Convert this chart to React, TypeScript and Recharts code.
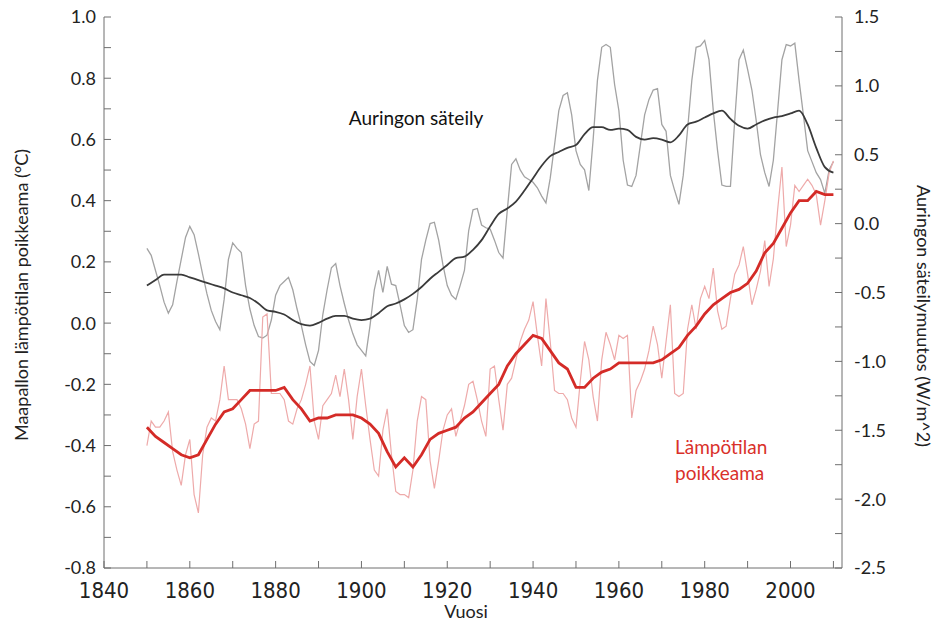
import { LineChart, Line, XAxis, YAxis } from 'recharts'

// vuosittaiset arvot alkavat 1850
const START = 1850

// Auringon säteilymuutos (W/m^2), vuosiarvot 1850–2010
const solarRaw = [
  -0.18, -0.23, -0.34, -0.45, -0.57, -0.65, -0.59, -0.42, -0.26, -0.10,
  -0.02, -0.08, -0.22, -0.37, -0.51, -0.63, -0.71, -0.77, -0.55, -0.26,
  -0.14, -0.18, -0.21, -0.45, -0.62, -0.74, -0.82, -0.83, -0.81, -0.70,
  -0.52, -0.45, -0.42, -0.39, -0.48, -0.62, -0.74, -0.88, -1.00, -1.03,
  -0.92, -0.66, -0.48, -0.32, -0.29, -0.45, -0.58, -0.70, -0.80, -0.88,
  -0.92, -0.96, -0.74, -0.48, -0.34, -0.50, -0.31, -0.44, -0.45, -0.59,
  -0.74, -0.79, -0.77, -0.55, -0.26, -0.12, 0.00, 0.01, -0.12, -0.30,
  -0.45, -0.52, -0.55, -0.45, -0.34, -0.05, 0.10, 0.11, -0.01, -0.03,
  -0.04, -0.12, -0.21, -0.25, 0.10, 0.43, 0.47, 0.39, 0.34, 0.32,
  0.30, 0.26, 0.20, 0.15, 0.33, 0.57, 0.82, 0.93, 0.95, 0.79,
  0.53, 0.43, 0.39, 0.24, 0.61, 1.04, 1.28, 1.30, 1.28, 1.01,
  0.82, 0.46, 0.28, 0.27, 0.35, 0.57, 0.79, 0.90, 0.97, 0.98,
  0.72, 0.67, 0.35, 0.24, 0.14, 0.35, 0.68, 1.04, 1.28, 1.29,
  1.33, 1.19, 0.82, 0.53, 0.28, 0.27, 0.27, 0.75, 1.19, 1.26,
  1.12, 0.97, 0.75, 0.50, 0.37, 0.27, 0.46, 0.82, 1.19, 1.30,
  1.29, 1.31, 1.04, 0.79, 0.53, 0.45, 0.37, 0.32, 0.22, 0.39,
  0.45,
]

// tasoitettu säteily, joka toinen vuosi 1850–2010
const solarSmooth = [
  -0.45, -0.41, -0.37, -0.37, -0.37, -0.39, -0.41, -0.43, -0.45, -0.47,
  -0.50, -0.52, -0.54, -0.58, -0.63, -0.64, -0.66, -0.70, -0.73, -0.74,
  -0.72, -0.69, -0.67, -0.67, -0.69, -0.70, -0.69, -0.65, -0.60, -0.58,
  -0.55, -0.51, -0.46, -0.40, -0.35, -0.30, -0.25, -0.24, -0.19, -0.12,
  -0.02, 0.07, 0.11, 0.16, 0.24, 0.33, 0.42, 0.49, 0.52, 0.55,
  0.57, 0.65, 0.70, 0.70, 0.68, 0.69, 0.68, 0.63, 0.61, 0.62,
  0.61, 0.59, 0.64, 0.72, 0.74, 0.77, 0.80, 0.82, 0.76, 0.71,
  0.69, 0.72, 0.75, 0.77, 0.78, 0.80, 0.82, 0.72, 0.55, 0.41,
  0.37,
]

// lämpötilan poikkeama (°C), vuosiarvot 1850–2010
const tempRaw = [
  -0.40, -0.32, -0.34, -0.34, -0.32, -0.29, -0.42, -0.48, -0.53, -0.43,
  -0.38, -0.56, -0.62, -0.43, -0.34, -0.31, -0.32, -0.25, -0.14, -0.25,
  -0.25, -0.25, -0.28, -0.33, -0.41, -0.33, -0.32, 0.02, 0.03, -0.23,
  -0.23, -0.23, -0.25, -0.32, -0.33, -0.28, -0.25, -0.20, -0.14, -0.32,
  -0.38, -0.27, -0.25, -0.23, -0.17, -0.24, -0.15, -0.25, -0.38, -0.24,
  -0.15, -0.27, -0.38, -0.48, -0.50, -0.35, -0.28, -0.43, -0.55, -0.56,
  -0.56, -0.57, -0.48, -0.32, -0.24, -0.25, -0.45, -0.54, -0.45, -0.35,
  -0.30, -0.28, -0.37, -0.32, -0.27, -0.20, -0.19, -0.25, -0.32, -0.37,
  -0.15, -0.14, -0.25, -0.35, -0.20, -0.18, -0.12, -0.06, -0.02, 0.01,
  0.07, -0.04, -0.14, 0.08, -0.06, -0.22, -0.23, -0.23, -0.25, -0.31,
  -0.34, -0.19, -0.06, -0.12, -0.24, -0.32, -0.12, -0.03, -0.07, -0.12,
  -0.04, -0.05, -0.04, -0.31, -0.22, -0.19, -0.15, -0.09, -0.01, -0.07,
  -0.18, -0.06, 0.06, -0.23, -0.24, -0.23, -0.02, 0.06, -0.02, 0.08,
  0.12, 0.08, 0.18, 0.04, -0.02, -0.01, 0.08, 0.16, 0.19, 0.25,
  0.16, 0.06, 0.11, 0.17, 0.27, 0.12, 0.21, 0.37, 0.51, 0.25,
  0.32, 0.45, 0.43, 0.45, 0.47, 0.45, 0.42, 0.32, 0.40, 0.49,
  0.53,
]

// tasoitettu poikkeama, joka toinen vuosi 1850–2010
const tempSmooth = [
  -0.34, -0.37, -0.39, -0.41, -0.43, -0.44, -0.43, -0.38, -0.33, -0.29,
  -0.28, -0.25, -0.22, -0.22, -0.22, -0.22, -0.21, -0.25, -0.28, -0.32,
  -0.31, -0.31, -0.30, -0.30, -0.30, -0.31, -0.33, -0.36, -0.42, -0.47,
  -0.44, -0.47, -0.43, -0.38, -0.36, -0.35, -0.34, -0.31, -0.29, -0.26,
  -0.23, -0.20, -0.14, -0.10, -0.07, -0.04, -0.05, -0.09, -0.13, -0.15,
  -0.21, -0.21, -0.18, -0.16, -0.15, -0.13, -0.13, -0.13, -0.13, -0.13,
  -0.12, -0.10, -0.08, -0.04, -0.01, 0.03, 0.06, 0.08, 0.10, 0.11,
  0.13, 0.17, 0.23, 0.26, 0.31, 0.36, 0.40, 0.40, 0.43, 0.42,
  0.42,
]

const xTicks = [1840, 1850, 1860, 1870, 1880, 1890, 1900, 1910, 1920, 1930, 1940, 1950, 1960, 1970, 1980, 1990, 2000, 2010]
const leftTicks = [-0.8, -0.7, -0.6, -0.5, -0.4, -0.3, -0.2, -0.1, 0, 0.1, 0.2, 0.3, 0.4, 0.5, 0.6, 0.7, 0.8, 0.9, 1.0]
const rightTicks = [-2.5, -2.25, -2.0, -1.75, -1.5, -1.25, -1.0, -0.75, -0.5, -0.25, 0, 0.25, 0.5, 0.75, 1.0, 1.25, 1.5]

const annual = (vals: number[]) => vals.map((v, i) => ({ year: START + i, v }))
const biennial = (vals: number[]) => vals.map((v, i) => ({ year: START + 2 * i, v }))

const AXIS = '#6f6f6f'
const TICK_FONT = 'Lato, "Noto Sans", sans-serif'
const YEAR_FONT = '"Liberation Sans Narrow", "DejaVu Sans Condensed", sans-serif'

export default function App() {
  return (
    <div
      style={{
        position: 'absolute',
        left: 0,
        top: 0,
        width: 938,
        height: 625,
        background: '#fff',
        fontFamily: TICK_FONT,
      }}
    >
      <LineChart width={938} height={625} margin={{ top: 17, right: 0, left: 0, bottom: 0 }}>
        <XAxis
          dataKey="year"
          type="number"
          domain={[1840, 2012]}
          ticks={xTicks}
          allowDataOverflow
          height={57}
          tickSize={-7}
          tickMargin={21}
          stroke={AXIS}
          tick={{ fontSize: 22, fill: '#222', fontFamily: YEAR_FONT }}
          tickFormatter={(v) => (v % 20 === 0 ? String(v) : '')}
        />
        <XAxis
          xAxisId="top"
          orientation="top"
          type="number"
          domain={[1840, 2012]}
          ticks={xTicks}
          allowDataOverflow
          height={0}
          tickSize={-7}
          stroke={AXIS}
          tickFormatter={() => ''}
        />
        <YAxis
          yAxisId="left"
          type="number"
          domain={[-0.8, 1.0]}
          ticks={leftTicks}
          allowDataOverflow
          width={104}
          tickSize={-7}
          tickMargin={15}
          stroke={AXIS}
          tick={{ fontSize: 18, fill: '#222', fontFamily: TICK_FONT }}
          tickFormatter={(v) => (Math.round(v * 10) % 2 === 0 ? v.toFixed(1) : '')}
        />
        <YAxis
          yAxisId="right"
          orientation="right"
          type="number"
          domain={[-2.5, 1.5]}
          ticks={rightTicks}
          allowDataOverflow
          width={96}
          tickSize={-7}
          tickMargin={19}
          stroke={AXIS}
          tick={{ fontSize: 18, fill: '#222', fontFamily: TICK_FONT }}
          tickFormatter={(v) => (Math.round(v * 4) % 2 === 0 ? v.toFixed(1) : '')}
        />
        <Line
          data={annual(solarRaw)}
          dataKey="v"
          yAxisId="right"
          type="linear"
          stroke="#a3a3a3"
          strokeWidth={1.3}
          dot={false}
          isAnimationActive={false}
        />
        <Line
          data={annual(tempRaw)}
          dataKey="v"
          yAxisId="left"
          type="linear"
          stroke="#eeaaaa"
          strokeWidth={1.2}
          dot={false}
          isAnimationActive={false}
        />
        <Line
          data={biennial(solarSmooth)}
          dataKey="v"
          yAxisId="right"
          type="monotone"
          stroke="#3a3a3a"
          strokeWidth={1.8}
          dot={false}
          isAnimationActive={false}
        />
        <Line
          data={biennial(tempSmooth)}
          dataKey="v"
          yAxisId="left"
          type="linear"
          stroke="#d42b27"
          strokeWidth={2.8}
          dot={false}
          isAnimationActive={false}
        />
      </LineChart>

      <div style={{ ...labelStyle(416, 117, '#111'), fontSize: 19 }}>Auringon säteily</div>
      <div
        style={{
          position: 'absolute',
          left: 675,
          top: 434,
          lineHeight: '26px',
          fontSize: 19,
          color: '#d9302a',
          whiteSpace: 'nowrap',
        }}
      >
        Lämpötilan
        <br />
        poikkeama
      </div>
      <div style={labelStyle(466, 611, '#222')}>Vuosi</div>
      <div style={{ ...labelStyle(21, 295, '#222'), transform: 'translate(-50%, -50%) rotate(-90deg)' }}>
        Maapallon lämpötilan poikkeama (°C)
      </div>
      <div style={{ ...labelStyle(924, 316, '#222'), transform: 'translate(-50%, -50%) rotate(90deg)' }}>
        Auringon säteilymuutos (W/m^2)
      </div>
    </div>
  )
}

function labelStyle(cx: number, cy: number, color: string): React.CSSProperties {
  return {
    position: 'absolute',
    left: cx,
    top: cy,
    transform: 'translate(-50%, -50%)',
    whiteSpace: 'nowrap',
    fontSize: 18,
    color,
    fontFamily: TICK_FONT,
  }
}
